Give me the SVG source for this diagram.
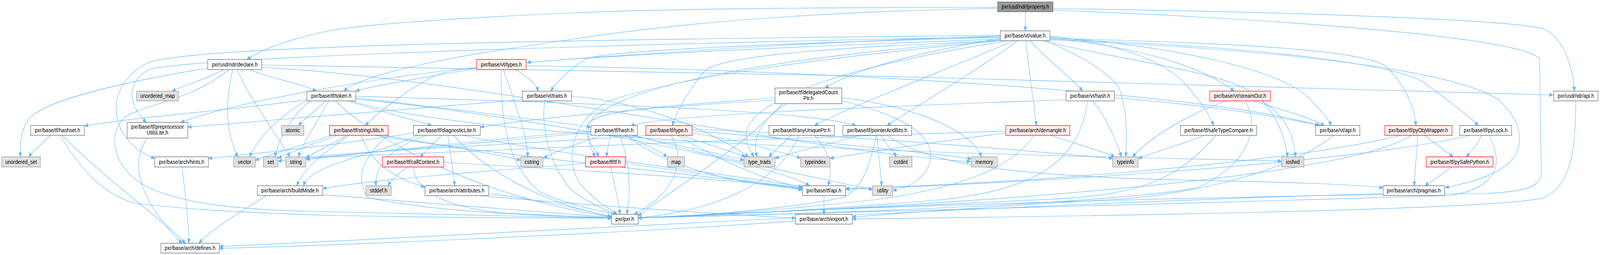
<svg xmlns="http://www.w3.org/2000/svg" width="4744" height="652" viewBox="0 0 4744 652" preserveAspectRatio="none">
<style>
svg{width:100%;height:652px}
.e path{fill:none;stroke:#63b8ff;stroke-width:1.2}
.n rect{fill:#ffffff;stroke:#666666;stroke-width:1.3}
.r rect{fill:#fff0f0;stroke:#ff0000;stroke-width:1.3}
.g rect{fill:#e0e0e0;stroke:#999999;stroke-width:1.3}
.root rect{fill:#999999;stroke:#666666;stroke-width:1.3}
text{font-family:"Liberation Sans",Arial,Helvetica,sans-serif;font-size:14.5px;fill:#000000;text-anchor:middle}
</style>
<defs>
<marker id="a" markerWidth="13" markerHeight="11" refX="11" refY="5" orient="auto" markerUnits="userSpaceOnUse">
<path d="M0,0.5 L11,5 L0,9.5 z" fill="#63b8ff" stroke="#63b8ff"/>
</marker>
</defs>
<g id="edges" class="e">
<path marker-end="url(#a)" d="M3040,30 C3040,45 3040,60 3040,79"/>
<path marker-end="url(#a)" d="M2958,19 C2300,19 1900,25 1700,33 C1300,48 1050,65 968,80 C860,100 780,125 732,152"/>
<path marker-end="url(#a)" d="M2958,21 C2400,30 2000,60 1700,100 C1500,125 1350,145 1250,165 C1120,190 1050,210 1019,233"/>
<path marker-end="url(#a)" d="M3122,22 C3800,30 4500,50 4580,75 C4640,100 4665,180 4668,233"/>
<path marker-end="url(#a)" d="M3122,26 C3700,45 4500,90 4565,150 L4570,440 C4570,480 4520,490 4400,495 C3500,500 2200,540 1892,558"/>
<path marker-end="url(#a)" d="M4672,258 C4672,380 4660,470 4580,505 C4450,540 3000,555 2527,560"/>
<path marker-end="url(#a)" d="M3113,98 C3700,110 4050,130 4110,170 C4170,220 4195,280 4198,321"/>
<path marker-end="url(#a)" d="M3113,100 C3800,120 4150,170 4220,210 C4300,260 4360,300 4383,321"/>
<path marker-end="url(#a)" d="M3113,102 C3900,130 4350,190 4450,260 C4520,320 4520,380 4470,420 C4420,455 4340,470 4285,480"/>
<path marker-end="url(#a)" d="M3042,104 C3050,180 3065,260 3073,321"/>
<path marker-end="url(#a)" d="M3055,104 C3100,150 3180,200 3210,233"/>
<path marker-end="url(#a)" d="M3007,104 C2800,180 2500,280 2415,321"/>
<path marker-end="url(#a)" d="M3017,104 C2900,180 2700,280 2630,321"/>
<path marker-end="url(#a)" d="M2966,98 C2750,130 2550,170 2446,225"/>
<path marker-end="url(#a)" d="M3113,92 C3300,110 3450,150 3520,220 C3570,270 3590,300 3598,321"/>
<path marker-end="url(#a)" d="M3113,96 C3350,120 3550,160 3659,233"/>
<path marker-end="url(#a)" d="M3113,94 C3500,120 3800,180 3880,250 C3920,285 3940,305 3947,321"/>
<path marker-end="url(#a)" d="M3100,104 C3200,140 3300,190 3320,230 C3345,290 3340,360 3338,401"/>
<path marker-end="url(#a)" d="M3090,104 C3300,150 3600,180 3700,230 C3780,270 3810,350 3818,401"/>
<path marker-end="url(#a)" d="M2966,90 C2000,100 600,110 440,160 C300,220 320,360 459,405"/>
<path marker-end="url(#a)" d="M2966,94 C2000,110 700,140 450,175 C380,200 370,260 434,313"/>
<path marker-end="url(#a)" d="M2966,100 C2000,130 1400,160 1300,190 C1200,230 1120,290 1083,321"/>
<path marker-end="url(#a)" d="M2966,102 C2400,140 1900,200 1760,300 C1730,330 1750,380 1765,401"/>
<path marker-end="url(#a)" d="M2966,104 C2500,120 2150,140 2090,180 C2040,230 2005,290 1993,321"/>
<path marker-end="url(#a)" d="M2966,96 C2300,110 1800,130 1740,150 C1690,175 1650,210 1633,233"/>
<path marker-end="url(#a)" d="M2966,92 C2300,110 1700,150 1563,160"/>
<path marker-end="url(#a)" d="M2966,104 C2400,150 2000,200 1800,260 C1680,320 1680,420 1720,470 C1760,510 1800,530 1830,548"/>
<path marker-end="url(#a)" d="M2990,104 C2500,170 2250,250 2215,330 C2205,360 2225,385 2235,401"/>
<path marker-end="url(#a)" d="M776,166 C1500,170 4000,220 4605,243"/>
<path marker-end="url(#a)" d="M740,178 C800,200 900,215 938,233"/>
<path marker-end="url(#a)" d="M663,178 C620,200 540,220 510,233"/>
<path marker-end="url(#a)" d="M616,174 C400,205 150,250 90,300 C60,330 60,370 60,401"/>
<path marker-end="url(#a)" d="M690,178 C670,250 665,330 705,401"/>
<path marker-end="url(#a)" d="M703,178 C740,250 800,320 860,401"/>
<path marker-end="url(#a)" d="M679,178 C560,260 430,265 370,300 C320,340 330,420 420,470 C520,520 700,535 900,540 C1300,550 1700,555 1813,558"/>
<path marker-end="url(#a)" d="M776,172 C1400,200 2400,390 2878,413"/>
<path marker-end="url(#a)" d="M1413,175 C1250,200 1100,220 1055,233"/>
<path marker-end="url(#a)" d="M1530,178 C1570,200 1590,215 1596,233"/>
<path marker-end="url(#a)" d="M1493,178 C1520,250 1560,330 1565,401"/>
<path marker-end="url(#a)" d="M1413,172 C1100,200 700,260 536,313"/>
<path marker-end="url(#a)" d="M1486,178 C1485,300 1500,420 1600,490 C1700,530 1790,540 1829,548"/>
<path marker-end="url(#a)" d="M1560,168 C2500,180 3600,240 3910,321"/>
<path marker-end="url(#a)" d="M910,255 C700,280 400,300 250,322"/>
<path marker-end="url(#a)" d="M966,258 C940,280 900,305 885,321"/>
<path marker-end="url(#a)" d="M975,258 C950,300 900,360 885,401"/>
<path marker-end="url(#a)" d="M920,258 C860,300 830,350 815,401"/>
<path marker-end="url(#a)" d="M912,256 C820,300 760,360 740,401"/>
<path marker-end="url(#a)" d="M1030,258 C1150,290 1240,310 1280,321"/>
<path marker-end="url(#a)" d="M1055,250 C1300,275 1600,305 1752,325"/>
<path marker-end="url(#a)" d="M1055,246 C1600,260 2400,280 2538,321"/>
<path marker-end="url(#a)" d="M1055,253 C1600,300 2300,420 2400,475"/>
<path marker-end="url(#a)" d="M995,258 C1100,350 1400,500 1813,555"/>
<path marker-end="url(#a)" d="M1040,258 C1500,380 3300,400 3800,412"/>
<path marker-end="url(#a)" d="M1549,255 C1200,280 800,305 557,325"/>
<path marker-end="url(#a)" d="M1695,246 C1900,260 2100,330 2220,401"/>
<path marker-end="url(#a)" d="M1615,258 C1600,350 1650,450 1700,490 C1750,520 1800,540 1830,548"/>
<path marker-end="url(#a)" d="M1000,346 C920,370 860,390 824,405"/>
<path marker-end="url(#a)" d="M1030,346 C980,370 930,390 907,405"/>
<path marker-end="url(#a)" d="M985,346 C900,370 800,395 757,410"/>
<path marker-end="url(#a)" d="M1140,346 C1300,370 1480,395 1544,410"/>
<path marker-end="url(#a)" d="M1070,346 C1100,420 1180,460 1260,478"/>
<path marker-end="url(#a)" d="M1035,346 C960,390 900,430 880,475"/>
<path marker-end="url(#a)" d="M1110,346 C1500,400 2200,460 2379,480"/>
<path marker-end="url(#a)" d="M1150,346 C1080,400 1050,450 1090,505 C1300,545 1650,553 1813,556"/>
<path marker-end="url(#a)" d="M1310,346 C1280,370 1260,390 1245,401"/>
<path marker-end="url(#a)" d="M1265,346 C1150,380 1110,430 1115,475"/>
<path marker-end="url(#a)" d="M1328,346 C1335,400 1345,440 1348,475"/>
<path marker-end="url(#a)" d="M1240,346 C1100,400 920,420 900,475"/>
<path marker-end="url(#a)" d="M1226,340 C1000,370 800,390 618,405"/>
<path marker-end="url(#a)" d="M1370,346 C1700,400 2200,450 2379,478"/>
<path marker-end="url(#a)" d="M1345,346 C1450,450 1650,530 1813,553"/>
<path marker-end="url(#a)" d="M1208,427 C1180,445 1160,460 1150,475"/>
<path marker-end="url(#a)" d="M1225,427 C1230,480 1300,530 1500,545 C1650,552 1750,555 1813,558"/>
<path marker-end="url(#a)" d="M1316,415 C1800,440 2200,460 2379,482"/>
<path marker-end="url(#a)" d="M1449,495 C1600,510 1750,540 1813,555"/>
<path marker-end="url(#a)" d="M1420,500 C1800,530 2200,550 2359,558"/>
<path marker-end="url(#a)" d="M790,500 C700,550 620,590 590,622"/>
<path marker-end="url(#a)" d="M957,498 C1300,520 1650,545 1813,556"/>
<path marker-end="url(#a)" d="M150,346 C120,370 95,390 85,401"/>
<path marker-end="url(#a)" d="M185,346 C300,450 480,560 550,622"/>
<path marker-end="url(#a)" d="M178,346 C250,450 320,500 400,520 C800,560 1400,555 1813,558"/>
<path marker-end="url(#a)" d="M437,353 C380,420 420,520 540,622"/>
<path marker-end="url(#a)" d="M540,427 C550,500 560,580 560,622"/>
<path marker-end="url(#a)" d="M4101,495 C3000,520 1000,620 650,630"/>
<path marker-end="url(#a)" d="M2359,565 C1800,600 900,630 650,635"/>
<path marker-end="url(#a)" d="M2443,500 L2443,548"/>
<path marker-end="url(#a)" d="M3955,346 C3800,450 3500,500 3300,510 C2900,530 2600,550 2527,555"/>
<path marker-end="url(#a)" d="M1810,346 C1805,370 1800,385 1798,401"/>
<path marker-end="url(#a)" d="M1838,346 C1870,420 1870,500 1858,548"/>
<path marker-end="url(#a)" d="M1850,346 C1920,370 1960,390 1978,401"/>
<path marker-end="url(#a)" d="M1870,346 C2000,370 2150,395 2206,410"/>
<path marker-end="url(#a)" d="M1752,335 C1400,360 1100,390 907,408"/>
<path marker-end="url(#a)" d="M1752,338 C1400,370 1000,395 824,412"/>
<path marker-end="url(#a)" d="M1785,346 C1700,370 1640,390 1612,405"/>
<path marker-end="url(#a)" d="M1856,346 C2000,440 2200,470 2379,483"/>
<path marker-end="url(#a)" d="M1880,346 C2100,400 2400,450 2587,485"/>
<path marker-end="url(#a)" d="M1990,346 C2040,420 1990,500 1880,548"/>
<path marker-end="url(#a)" d="M2020,346 C2100,370 2180,390 2210,401"/>
<path marker-end="url(#a)" d="M2052,340 C2200,360 2320,390 2374,404"/>
<path marker-end="url(#a)" d="M2010,346 C2150,420 2300,470 2380,478"/>
<path marker-end="url(#a)" d="M1930,346 C1500,370 1000,390 907,403"/>
<path marker-end="url(#a)" d="M2052,334 C2400,360 2750,390 2880,406"/>
<path marker-end="url(#a)" d="M2052,330 C2600,350 3100,390 3299,405"/>
<path marker-end="url(#a)" d="M2345,346 C2320,370 2290,390 2280,401"/>
<path marker-end="url(#a)" d="M2370,346 C2300,480 2100,540 1892,557"/>
<path marker-end="url(#a)" d="M2415,346 C2460,390 2470,430 2455,475"/>
<path marker-end="url(#a)" d="M2612,346 C2630,370 2650,390 2658,401"/>
<path marker-end="url(#a)" d="M2600,346 C2605,400 2612,440 2614,475"/>
<path marker-end="url(#a)" d="M2598,346 C2580,420 2560,480 2500,505 C2300,540 2000,555 1892,557"/>
<path marker-end="url(#a)" d="M2630,346 C2750,420 3000,450 3500,460 C3800,466 4000,470 4101,480"/>
<path marker-end="url(#a)" d="M2550,346 C2450,370 2350,390 2298,405"/>
<path marker-end="url(#a)" d="M2982,340 C2800,360 2600,385 2461,405"/>
<path marker-end="url(#a)" d="M2982,335 C2400,350 1200,390 907,404"/>
<path marker-end="url(#a)" d="M3115,346 C3200,370 3280,390 3305,401"/>
<path marker-end="url(#a)" d="M3066,346 C3000,430 2850,480 2600,510 C2300,540 2000,555 1892,557"/>
<path marker-end="url(#a)" d="M2496,250 C2700,270 2880,330 2910,401"/>
<path marker-end="url(#a)" d="M2496,258 C2700,300 2760,350 2760,400 C2755,450 2700,480 2647,487"/>
<path marker-end="url(#a)" d="M2330,265 C2250,310 2230,360 2245,401"/>
<path marker-end="url(#a)" d="M2298,250 C2000,270 1760,280 1740,320 C1730,350 1765,380 1775,401"/>
<path marker-end="url(#a)" d="M2298,256 C2000,270 1600,300 1424,325"/>
<path marker-end="url(#a)" d="M2320,265 C2200,380 2000,480 1892,552"/>
<path marker-end="url(#a)" d="M3240,258 C3280,300 3310,360 3325,401"/>
<path marker-end="url(#a)" d="M3304,250 C3600,270 3800,300 3915,321"/>
<path marker-end="url(#a)" d="M3161,255 C2700,270 2000,290 1870,321"/>
<path marker-end="url(#a)" d="M3225,258 C3200,400 3100,480 2800,510 C2400,540 2000,555 1892,557"/>
<path marker-end="url(#a)" d="M3635,258 C3500,300 3400,360 3358,401"/>
<path marker-end="url(#a)" d="M3716,258 C3800,280 3880,300 3927,321"/>
<path marker-end="url(#a)" d="M3742,258 C3820,300 3840,360 3840,401"/>
<path marker-end="url(#a)" d="M3692,258 C3740,330 3700,420 3550,480 C3300,520 2500,545 1892,557"/>
<path marker-end="url(#a)" d="M3572,346 C3500,370 3420,390 3375,405"/>
<path marker-end="url(#a)" d="M3605,346 C3500,450 3400,500 3100,510 C2600,530 2000,555 1892,557"/>
<path marker-end="url(#a)" d="M4224,346 C4260,370 4290,390 4309,401"/>
<path marker-end="url(#a)" d="M4204,346 C4200,400 4195,440 4193,475"/>
<path marker-end="url(#a)" d="M4185,346 C4000,450 3000,520 1892,557"/>
<path marker-end="url(#a)" d="M4155,346 C3800,420 3000,470 2507,482"/>
<path marker-end="url(#a)" d="M4393,346 C4380,370 4360,390 4347,401"/>
<path marker-end="url(#a)" d="M4415,346 C4460,420 4440,480 4300,500 C3500,520 2500,545 1892,557"/>
<path marker-end="url(#a)" d="M4358,346 C4000,420 3000,470 2507,484"/>
<path marker-end="url(#a)" d="M4305,427 C4270,450 4240,465 4225,475"/>
<path marker-end="url(#a)" d="M1810,427 C1825,480 1835,520 1838,548"/>
<path marker-end="url(#a)" d="M1736,418 C1400,440 1100,460 957,482"/>
<path marker-end="url(#a)" d="M1854,418 C2050,440 2250,465 2379,486"/>
</g>
<g id="n_property" class="root"><rect x="2958" y="5" width="164" height="25"/><text x="3040" y="22.5">pxr/usd/ndr/property.h</text></g>
<g id="n_value" class="n"><rect x="2966" y="79" width="147" height="25"/><text x="3039.5" y="96.5">pxr/base/vt/value.h</text></g>
<g id="n_declare" class="n"><rect x="616" y="152" width="160" height="26"/><text x="696" y="170">pxr/usd/ndr/declare.h</text></g>
<g id="n_types" class="r"><rect x="1413" y="152" width="147" height="26"/><text x="1486.5" y="170">pxr/base/vt/types.h</text></g>
<g id="n_umap" class="g"><rect x="405" y="233" width="124" height="25"/><text x="467" y="250.5">unordered_map</text></g>
<g id="n_token" class="n"><rect x="910" y="233" width="145" height="25"/><text x="982.5" y="250.5">pxr/base/tf/token.h</text></g>
<g id="n_traits" class="n"><rect x="1549" y="233" width="146" height="25"/><text x="1622" y="250.5">pxr/base/vt/traits.h</text></g>
<g id="n_delegated" class="n"><rect x="2298" y="225" width="198" height="40"/><text x="2397" y="241">pxr/base/tf/delegatedCount</text><text x="2397" y="256">Ptr.h</text></g>
<g id="n_vthash" class="n"><rect x="3161" y="233" width="143" height="25"/><text x="3232.5" y="250.5">pxr/base/vt/hash.h</text></g>
<g id="n_streamOut" class="r"><rect x="3587" y="233" width="180" height="25"/><text x="3677" y="250.5">pxr/base/vt/streamOut.h</text></g>
<g id="n_ndrapi" class="n"><rect x="4607" y="233" width="131" height="25"/><text x="4672.5" y="250.5">pxr/usd/ndr/api.h</text></g>
<g id="n_hashset" class="n"><rect x="91" y="321" width="159" height="25"/><text x="170.5" y="338.5">pxr/base/tf/hashset.h</text></g>
<g id="n_ppul" class="n"><rect x="377" y="313" width="180" height="40"/><text x="467" y="329">pxr/base/tf/preprocessor</text><text x="467" y="344">UtilsLite.h</text></g>
<g id="n_atomic" class="g"><rect x="835" y="321" width="66" height="25"/><text x="868" y="338.5">atomic</text></g>
<g id="n_stringUtils" class="r"><rect x="977" y="321" width="174" height="25"/><text x="1064" y="338.5">pxr/base/tf/stringUtils.h</text></g>
<g id="n_diagLite" class="n"><rect x="1226" y="321" width="198" height="25"/><text x="1325" y="338.5">pxr/base/tf/diagnosticLite.h</text></g>
<g id="n_tfhash" class="n"><rect x="1752" y="321" width="138" height="25"/><text x="1821" y="338.5">pxr/base/tf/hash.h</text></g>
<g id="n_tftype" class="r"><rect x="1915" y="321" width="137" height="25"/><text x="1983.5" y="338.5">pxr/base/tf/type.h</text></g>
<g id="n_anyUnique" class="n"><rect x="2280" y="321" width="194" height="25"/><text x="2377" y="338.5">pxr/base/tf/anyUniquePtr.h</text></g>
<g id="n_pab" class="n"><rect x="2499" y="321" width="204" height="25"/><text x="2601" y="338.5">pxr/base/tf/pointerAndBits.h</text></g>
<g id="n_demangle" class="r"><rect x="2982" y="321" width="190" height="25"/><text x="3077" y="338.5">pxr/base/arch/demangle.h</text></g>
<g id="n_safeType" class="n"><rect x="3500" y="321" width="226" height="25"/><text x="3613" y="338.5">pxr/base/tf/safeTypeCompare.h</text></g>
<g id="n_vtapi" class="n"><rect x="3901" y="321" width="131" height="25"/><text x="3966.5" y="338.5">pxr/base/vt/api.h</text></g>
<g id="n_pyObj" class="r"><rect x="4106" y="321" width="199" height="25"/><text x="4205.5" y="338.5">pxr/base/tf/pyObjWrapper.h</text></g>
<g id="n_pyLock" class="n"><rect x="4328" y="321" width="154" height="25"/><text x="4405" y="338.5">pxr/base/tf/pyLock.h</text></g>
<g id="n_uset" class="g"><rect x="5" y="401" width="115" height="26"/><text x="62.5" y="419">unordered_set</text></g>
<g id="n_hints" class="n"><rect x="459" y="401" width="159" height="26"/><text x="538.5" y="419">pxr/base/arch/hints.h</text></g>
<g id="n_vector" class="g"><rect x="693" y="401" width="64" height="26"/><text x="725" y="419">vector</text></g>
<g id="n_set" class="g"><rect x="781" y="401" width="43" height="26"/><text x="802.5" y="419">set</text></g>
<g id="n_string" class="g"><rect x="847" y="401" width="60" height="26"/><text x="877" y="419">string</text></g>
<g id="n_callCtx" class="r"><rect x="1134" y="401" width="182" height="26"/><text x="1225" y="419">pxr/base/tf/callContext.h</text></g>
<g id="n_cstring" class="g"><rect x="1544" y="401" width="66" height="26"/><text x="1577" y="419">cstring</text></g>
<g id="n_tftf" class="r"><rect x="1736" y="401" width="118" height="26"/><text x="1795" y="419">pxr/base/tf/tf.h</text></g>
<g id="n_map" class="g"><rect x="1979" y="401" width="51" height="26"/><text x="2004.5" y="419">map</text></g>
<g id="n_typetraits" class="g"><rect x="2206" y="401" width="92" height="26"/><text x="2252" y="419">type_traits</text></g>
<g id="n_typeindex" class="g"><rect x="2374" y="401" width="87" height="26"/><text x="2417.5" y="419">typeindex</text></g>
<g id="n_cstdint" class="g"><rect x="2637" y="401" width="67" height="26"/><text x="2670.5" y="419">cstdint</text></g>
<g id="n_memory" class="g"><rect x="2880" y="401" width="77" height="26"/><text x="2918.5" y="419">memory</text></g>
<g id="n_typeinfo" class="g"><rect x="3299" y="401" width="76" height="26"/><text x="3337" y="419">typeinfo</text></g>
<g id="n_iosfwd" class="g"><rect x="3800" y="401" width="66" height="26"/><text x="3833" y="419">iosfwd</text></g>
<g id="n_pySafe" class="r"><rect x="4229" y="401" width="198" height="26"/><text x="4328" y="419">pxr/base/tf/pySafePython.h</text></g>
<g id="n_buildMode" class="n"><rect x="763" y="475" width="194" height="25"/><text x="860" y="492.5">pxr/base/arch/buildMode.h</text></g>
<g id="n_stddef" class="g"><rect x="1085" y="475" width="75" height="25"/><text x="1122.5" y="492.5">stddef.h</text></g>
<g id="n_attributes" class="n"><rect x="1260" y="475" width="189" height="25"/><text x="1354.5" y="492.5">pxr/base/arch/attributes.h</text></g>
<g id="n_tfapi" class="n"><rect x="2379" y="475" width="128" height="25"/><text x="2443" y="492.5">pxr/base/tf/api.h</text></g>
<g id="n_utility" class="g"><rect x="2587" y="475" width="60" height="25"/><text x="2617" y="492.5">utility</text></g>
<g id="n_pragmas" class="n"><rect x="4101" y="475" width="182" height="25"/><text x="4192" y="492.5">pxr/base/arch/pragmas.h</text></g>
<g id="n_pxr" class="n"><rect x="1813" y="548" width="79" height="25"/><text x="1852.5" y="565.5">pxr/pxr.h</text></g>
<g id="n_export" class="n"><rect x="2359" y="548" width="168" height="25"/><text x="2443" y="565.5">pxr/base/arch/export.h</text></g>
<g id="n_defines" class="n"><rect x="477" y="622" width="173" height="25"/><text x="563.5" y="639.5">pxr/base/arch/defines.h</text></g>
</svg>
